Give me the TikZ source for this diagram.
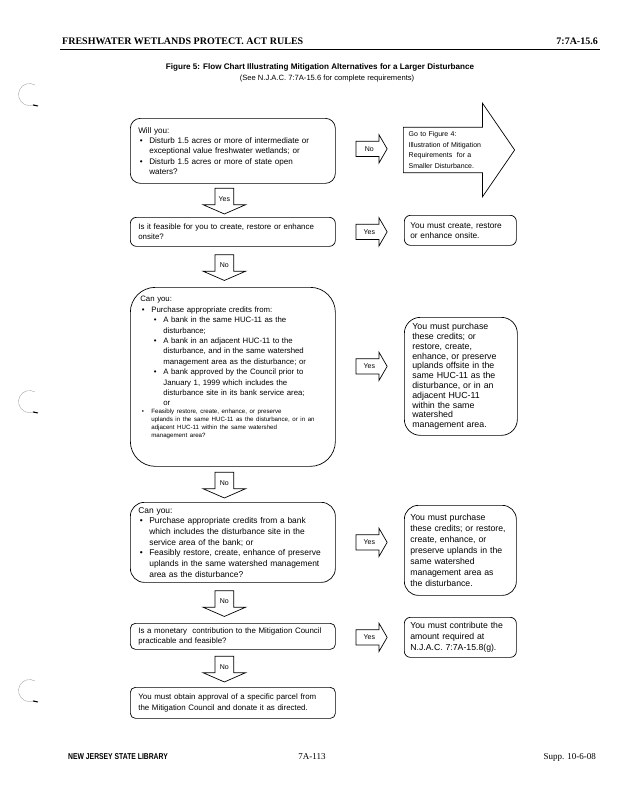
\documentclass[tikz,border=0pt]{standalone}
\usepackage{fontspec}
\setmainfont{Liberation Serif}
\setsansfont{Liberation Sans}
\usetikzlibrary{shapes.arrows,calc}
\setlength\parindent{0pt}
\newcommand\bitem{\makebox[11pt][l]{\hspace{1.5pt}\textbullet}}
\newcommand\boxfont[2]{\sffamily\fontsize{#1}{#2}\selectfont}
\newcommand\smallboxfont{\sffamily\fontsize{6.15}{8}\selectfont}
\tikzset{
  txt/.style={inner sep=0pt},
  box/.style={draw, rounded corners=#1, line width=0.7pt, anchor=north west, align=left,
    inner xsep=8pt, inner ysep=2pt, text width=189pt, font=\boxfont{7.9}{10.3}},
  box/.default=6pt,
  rbox/.style={box=#1, inner xsep=6pt, text width=100pt, font=\boxfont{8.3}{10}},
  rbox/.default=6pt,
  rarr/.style={draw, line width=0.7pt, single arrow, single arrow head extend=6.5pt,
    single arrow tip angle=120, text width=14pt, align=center, inner xsep=6pt,
    inner ysep=4pt, text height=5.5pt, text depth=1pt, font=\sffamily\fontsize{7}{8}\selectfont},
  darr/.style={draw, line width=0.7pt, single arrow, shape border rotate=270,
    single arrow head extend=12pt, single arrow tip angle=133, text width=12pt, align=center,
    inner xsep=3pt, inner ysep=7.25pt, text height=5.5pt, text depth=1pt,
    font=\sffamily\fontsize{7}{8}\selectfont},
  bigarr/.style={draw, line width=0.7pt, single arrow, single arrow head extend=24pt,
    single arrow tip angle=111, align=left, text width=85pt, inner xsep=5pt, inner ysep=4pt,
    font=\sffamily\fontsize{7}{10.5}\selectfont},
  hole/.style={gray!70, line width=0.4pt}
}
\begin{document}
\begin{tikzpicture}[x=1pt,y=-1pt]
\useasboundingbox (0,0) rectangle (618,800);

\node[txt, font=\bfseries\fontsize{10}{12}\selectfont, anchor=base west] (head) at (62,45) {FRESHWATER WETLANDS PROTECT. ACT RULES};
\node[txt, font=\bfseries\fontsize{10}{12}\selectfont, anchor=base east] (sect) at (598,45) {7:7A-15.6};
\draw[line width=0.8pt] (60,49) -- (600,49);

\node[txt, font=\sffamily\bfseries\fontsize{8.1}{9}\selectfont, anchor=base] (title) at (320,70) {Figure 5: Flow Chart Illustrating Mitigation Alternatives for a Larger Disturbance};
\node[txt, font=\sffamily\fontsize{7.6}{9}\selectfont, anchor=base] (sub) at (327,80.5) {(See N.J.A.C. 7:7A-15.6 for complete requirements)};

\foreach \y in {95,402,691} {
  \draw[hole] (35,\y-10) arc[start angle=-60, end angle=-300, radius=11];
  \draw[line width=1pt] (33,\y+10) -- (38,\y+11);
}

\node[box=10pt, minimum height=65pt, font=\boxfont{8.1}{10.3}] (b1) at (130,118) {Will you:\\
\bitem Disturb 1.5 acres or more of intermediate or\\
\hspace*{11pt}exceptional value freshwater wetlands; or\\
\bitem Disturb 1.5 acres or more of state open\\
\hspace*{11pt}waters?};
\node[box=6pt, minimum height=29pt] (b2) at (130,217) {Is it feasible for you to create, restore or enhance\\
onsite?};
\node[box=25pt, minimum height=179pt, inner xsep=10pt, text width=185pt, font=\boxfont{7.8}{10.4}] (b3) at (130,287) {Can you:\\
\bitem Purchase appropriate credits from:\\
\hspace*{12pt}\bitem A bank in the same HUC-11 as the\\
\hspace*{23pt}disturbance;\\
\hspace*{12pt}\bitem A bank in an adjacent HUC-11 to the\\
\hspace*{23pt}disturbance, and in the same watershed\\
\hspace*{23pt}management area as the disturbance; or\\
\hspace*{12pt}\bitem A bank approved by the Council prior to\\
\hspace*{23pt}January 1, 1999 which includes the\\
\hspace*{23pt}disturbance site in its bank service area;\\
\hspace*{23pt}or\par
{\smallboxfont\bitem Feasibly restore, create, enhance, or preserve\\
\hspace*{11pt}uplands in the same HUC-11 as the disturbance, or in an\\
\hspace*{11pt}adjacent HUC-11 within the same watershed\\
\hspace*{11pt}management area?\par}
\vspace*{9pt}\mbox{}};
\node[box=14pt, minimum height=80pt, font=\boxfont{8.4}{10.7}] (b4) at (130,502) {Can you:\\
\bitem Purchase appropriate credits from a bank\\
\hspace*{11pt}which includes the disturbance site in the\\
\hspace*{11pt}service area of the bank; or\\
\bitem Feasibly restore, create, enhance of preserve\\
\hspace*{11pt}uplands in the same watershed management\\
\hspace*{11pt}area as the disturbance?};
\node[box=5pt, minimum height=26pt] (b5) at (130,623) {Is a monetary\ \ contribution to the Mitigation Council\\
practicable and feasible?};
\node[box=5pt, minimum height=31pt] (b6) at (130,687) {You must obtain approval of a specific parcel from\\
the Mitigation Council and donate it as directed.};

\node[bigarr, anchor=tail] (r1) at (403,150) {Go to Figure 4:\\
Illustration of Mitigation\\
Requirements\ \ for a\\
Smaller Disturbance.};
\node[rbox=6pt, minimum height=30pt] (r2) at (404,215) {You must create, restore\\
or enhance onsite.};
\node[rbox=16pt, minimum height=118pt, inner xsep=8pt, text width=97pt, font=\boxfont{8.8}{9.8}] (r3) at (404,317) {You must purchase\\
these credits; or\\
restore, create,\\
enhance, or preserve\\
uplands offsite in the\\
same HUC-11 as the\\
disturbance, or in an\\
adjacent HUC-11\\
within the same\\
watershed\\
management area.};
\node[rbox=14pt, minimum height=90pt, font=\boxfont{8.7}{10.9}] (r4) at (404,505) {You must purchase\\
these credits; or restore,\\
create, enhance, or\\
preserve uplands in the\\
same watershed\\
management area as\\
the disturbance.};
\node[rbox=6pt, minimum height=40pt, font=\boxfont{8.7}{10.9}] (r5) at (404,617) {You must contribute the\\
amount required at\\
N.J.A.C. 7:7A-15.8(g).};

\node[rarr, anchor=tail] (n1) at ($(b1.east)+(20,-2)$) {No};
\node[rarr, anchor=tail] (y2) at ($(b2.east)+(20,0)$) {Yes};
\node[rarr, anchor=tail] (y3) at ($(b3.east)+(20,-10.5)$) {Yes};
\node[rarr, anchor=tail] (y4) at ($(b4.east)+(20,0)$) {Yes};
\node[rarr, anchor=tail] (y5) at ($(b5.east)+(20,1)$) {Yes};

\node[darr, anchor=tail] (y1) at ($(b1.south)!0.5!(b2.north)+(-8.5,-12.5)$) {Yes};
\node[darr, anchor=tail] (n2) at ($(b2.south)!0.5!(b3.north)+(-8.5,-12.5)$) {No};
\node[darr, anchor=tail] (n3) at ($(b3.south)!0.5!(b4.north)+(-8.5,-12.5)$) {No};
\node[darr, anchor=tail] (n4) at ($(b4.south)!0.5!(b5.north)+(-8.5,-12.5)$) {No};
\node[darr, anchor=tail] (n5) at ($(b5.south)!0.5!(b6.north)+(-8.5,-12.5)$) {No};

\node[txt, font=\sffamily\bfseries\fontsize{8.5}{10}\selectfont, anchor=base west] (lib) at (68,759) {\scalebox{0.8}[1]{NEW JERSEY STATE LIBRARY}};
\node[txt, font=\fontsize{9}{11}\selectfont, anchor=base] (page) at (312,759) {7A-113};
\node[txt, font=\fontsize{9}{11}\selectfont, anchor=base east] (supp) at (596,759) {Supp. 10-6-08};
\end{tikzpicture}
\end{document}
